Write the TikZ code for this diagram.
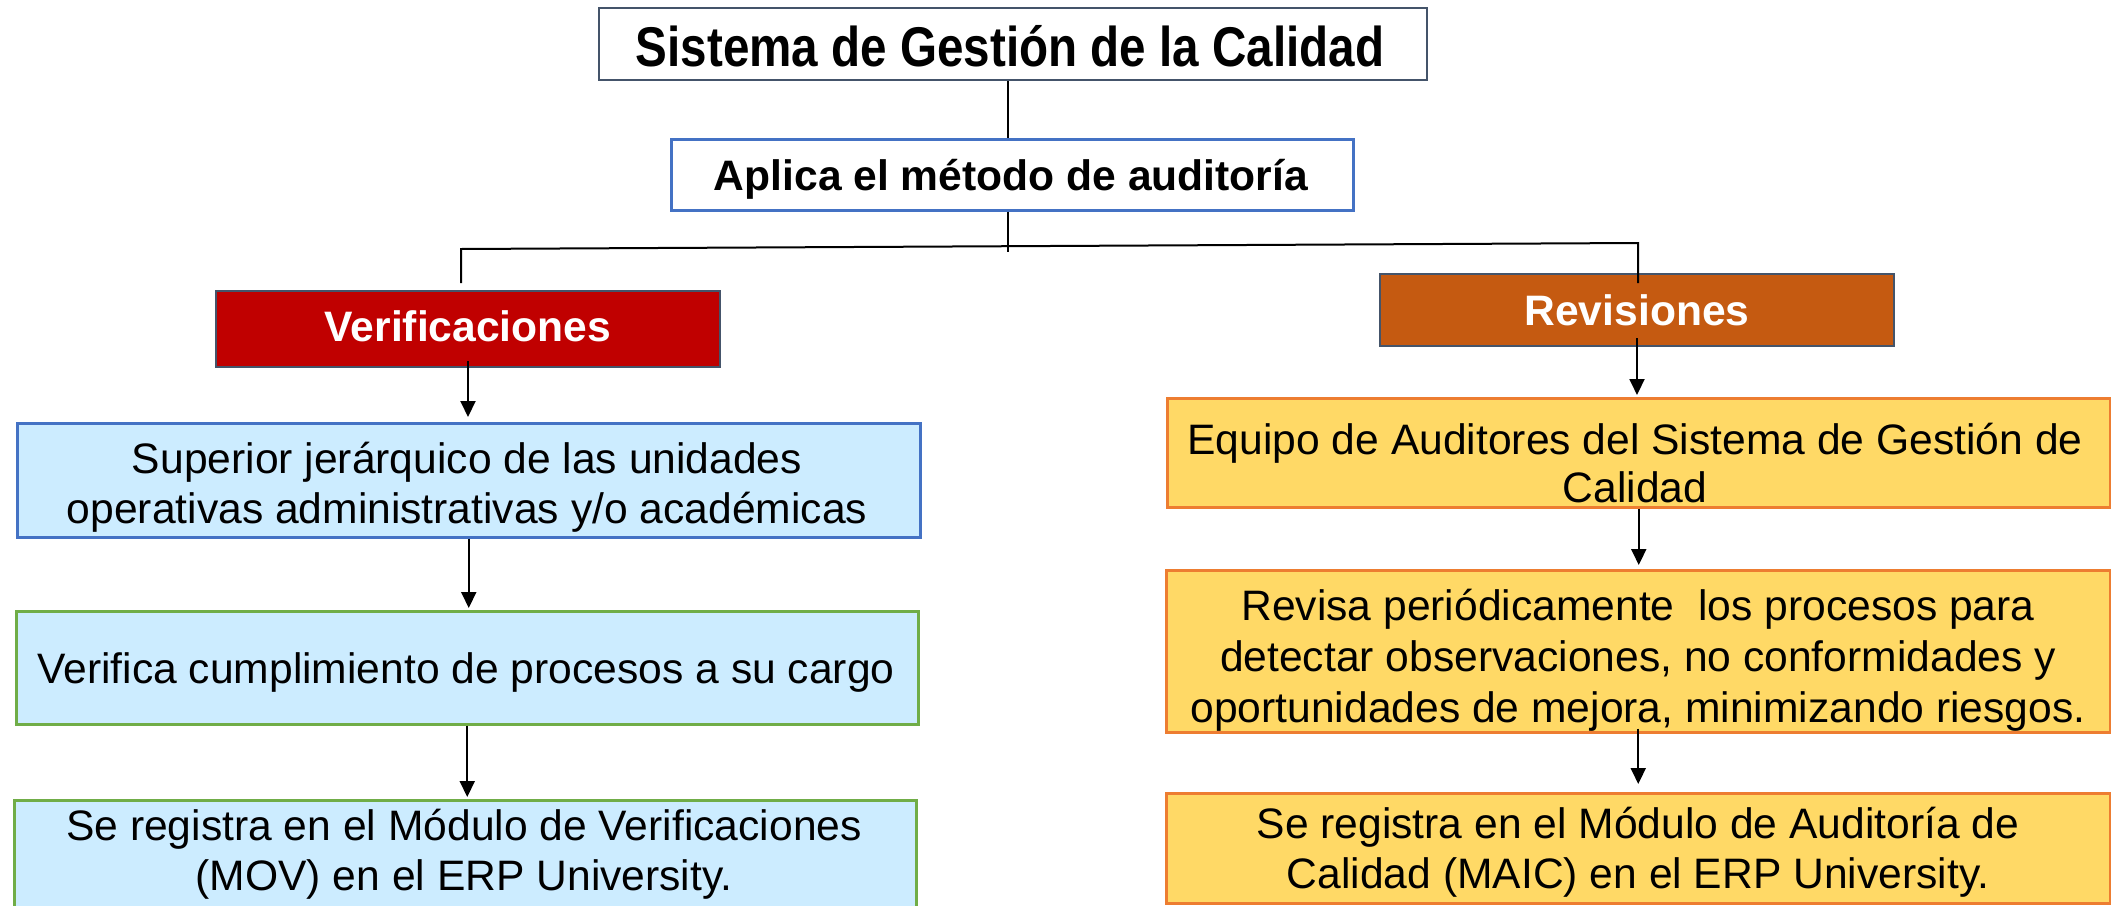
\documentclass[tikz,border=0pt]{standalone}
\usepackage{graphicx}
\usepackage{fontspec}
\setmainfont{Liberation Sans}
\usetikzlibrary{arrows.meta}
\definecolor{slate}{HTML}{44546A}
\definecolor{accblue}{HTML}{4472C4}
\definecolor{lblue}{HTML}{CCECFF}
\definecolor{vred}{HTML}{C00000}
\definecolor{rorange}{HTML}{C55A11}
\definecolor{ggreen}{HTML}{70AD47}
\definecolor{goldfill}{HTML}{FFD966}
\definecolor{oorange}{HTML}{ED7D31}
\newcommand\lnstrut{\rule[-12pt]{0pt}{48pt}}
\begin{document}
\begin{tikzpicture}[x=1pt,y=-1pt,
  box/.style={draw, line width=2.5pt, inner sep=0pt, anchor=north west},
  txt/.style={inner sep=0pt, align=center, anchor=north, font=\fontsize{42.6}{#1}\selectfont},
  txt/.default=50,
  single/.style={inner sep=0pt, anchor=base, font=\fontsize{42.6}{50}\selectfont},
  conn/.style={draw=black, line width=2pt},
  arr/.style={conn, -{Triangle[width=15pt,length=16pt]}}]
\useasboundingbox (0,0) rectangle (2111,905);
\clip (0,0) rectangle (2111,905);

% boxes
\node[box, draw=slate, line width=2pt, minimum width=828pt, minimum height=72pt] (title) at (598,7) {};
\node[box, draw=accblue, minimum width=682pt, minimum height=71pt] (apl) at (670,138) {};
\node[box, draw=slate, fill=vred, line width=2pt, minimum width=504pt, minimum height=76pt] (verif) at (215,290) {};
\node[box, draw=slate, fill=rorange, line width=2pt, minimum width=514pt, minimum height=72pt] (revis) at (1379,273) {};
\node[box, draw=accblue, fill=lblue, minimum width=903pt, minimum height=114pt] (sup) at (16,422) {};
\node[box, draw=ggreen, fill=lblue, minimum width=902pt, minimum height=113pt] (verf) at (15,610) {};
\node[box, draw=ggreen, fill=lblue, minimum width=902pt, minimum height=130pt] (regl) at (13,799) {};
\node[box, draw=oorange, fill=goldfill, minimum width=943pt, minimum height=109pt] (equ) at (1166,397) {};
\node[box, draw=oorange, fill=goldfill, minimum width=944pt, minimum height=162pt] (rev) at (1165,569) {};
\node[box, draw=oorange, fill=goldfill, minimum width=944pt, minimum height=110pt] (regr) at (1165,792) {};

% texts
\node[inner sep=0pt, anchor=base] (ttitle) at (1010,66)
  {\scalebox{0.85}[1]{\bfseries\fontsize{56}{60}\selectfont Sistema de Gestión de la Calidad}};
\node[single, font=\bfseries\fontsize{42.6}{50}\selectfont] (tapl) at (1011,190) {Aplica el método de auditoría};
\node[single, text=white, font=\bfseries\fontsize{42.6}{50}\selectfont] (tverif) at (468,341) {Verificaciones};
\node[single, text=white, font=\bfseries\fontsize{42.6}{50}\selectfont] (trevis) at (1637,325) {Revisiones};
\node[txt] (tsup) at (467,437.3) {\lnstrut Superior jerárquico de las unidades\\\lnstrut operativas administrativas y/o académicas};
\node[single] (tverf) at (466,683) {Verifica cumplimiento de procesos a su cargo};
\node[txt] (tregl) at (464,804) {\lnstrut Se registra en el Módulo de Verificaciones\\\lnstrut (MOV) en el ERP University.};
\node[txt=48] (tequ) at (1635,418) {\lnstrut Equipo de Auditores del Sistema de Gestión de\\\lnstrut Calidad};
\node[txt=51] (trev) at (1638,584) {\lnstrut Revisa periódicamente~ los procesos para\\\lnstrut detectar observaciones, no conformidades y\\\lnstrut oportunidades de mejora, minimizando riesgos.};
\node[txt] (tregr) at (1638,802.3) {\lnstrut Se registra en el Módulo de Auditoría de\\\lnstrut Calidad (MAIC) en el ERP University.};

% junction points
\coordinate (jl) at (461,249);
\coordinate (jr) at (1638,243);
\coordinate (jm) at (1008,252);

% connectors
\draw[conn] (jm |- title.south) -- (jm |- apl.north);
\draw[conn] (jm |- apl.south) -- (jm);
\draw[conn] ([yshift=7pt]jl |- verif.north) -- (jl) -- (jr) -- ([yshift=-10pt]jr |- revis.north);
\draw[arr, shorten >=5pt] ([yshift=7pt]verif.south) -- (verif.south |- sup.north);
\draw[arr, shorten >=2pt] (sup.south) -- (sup.south |- verf.north);
\draw[arr, shorten >=2pt] (verf.south) -- (verf.south |- regl.north);
\draw[arr, shorten >=2pt] ([yshift=9pt]revis.south) -- (revis.south |- equ.north);
\draw[arr, shorten >=4pt] (equ.south) -- (equ.south |- rev.north);
\draw[arr, shorten >=8pt] ([yshift=5pt]rev.south) -- (rev.south |- regr.north);
\end{tikzpicture}
\end{document}
